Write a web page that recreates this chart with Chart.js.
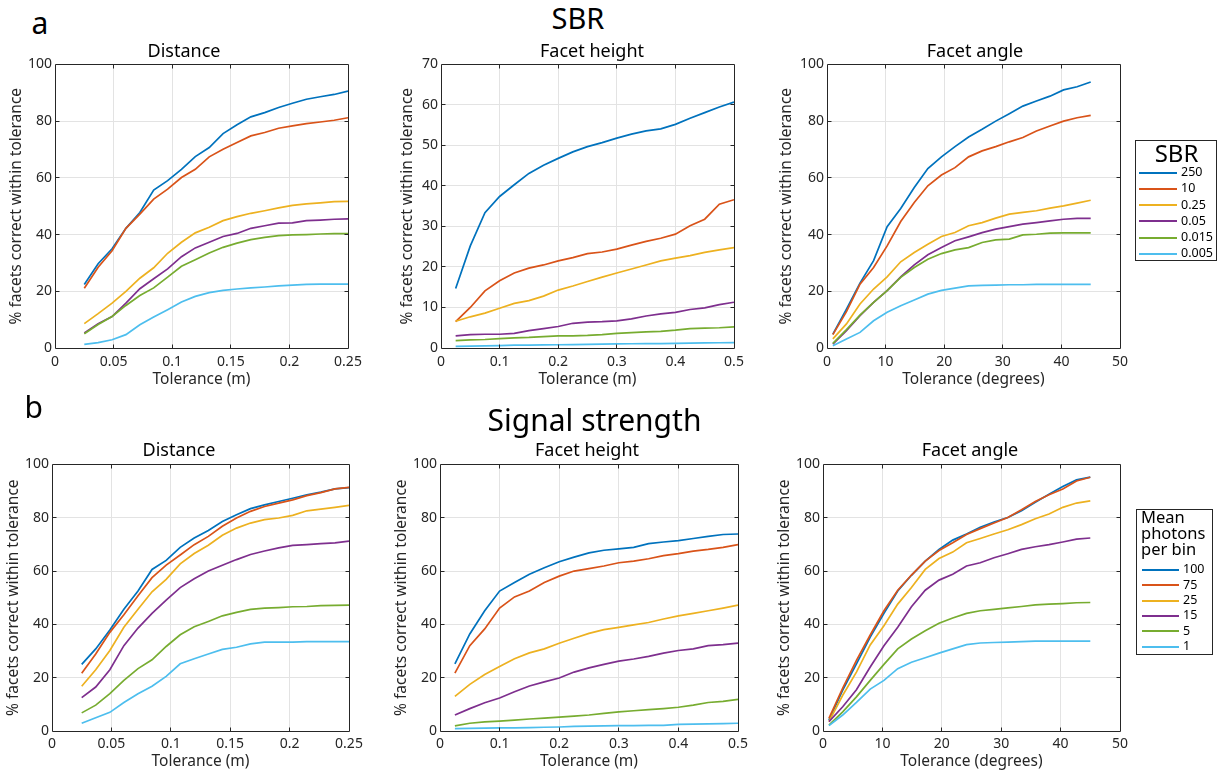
<!DOCTYPE html>
<html>
<head>
<meta charset="utf-8">
<script src="https://cdn.jsdelivr.net/npm/chart.js@4.4.1/dist/chart.umd.min.js"></script>
<style>
  html, body { margin: 0; padding: 0; background: #fff; }
  #fig { position: relative; width: 1225px; height: 775px; overflow: hidden; font-family: 'Noto Sans', sans-serif; }
  #fig canvas { position: absolute; }
  .txt { position: absolute; white-space: nowrap; color: #000; }
  .leg { position: absolute; border: 1px solid #262626; background: #fff; box-sizing: border-box; }
  .legline { position: absolute; height: 2px; }
</style>
</head>
<body>
<div id="fig"></div>
<script>
// ---------------- data ----------------
const sbrLevels = ['250', '10', '0.25', '0.05', '0.015', '0.005'];
const photonLevels = ['100', '75', '25', '15', '5', '1'];

// tolerance values (x) for each quantity
const tolDistance = [0.025, 0.0368, 0.0487, 0.0605, 0.0724, 0.0842, 0.0961, 0.1079, 0.1197, 0.1316,
                     0.1434, 0.1553, 0.1671, 0.1789, 0.1908, 0.2026, 0.2145, 0.2263, 0.2382, 0.25];
const tolHeight = [0.025, 0.05, 0.075, 0.1, 0.125, 0.15, 0.175, 0.2, 0.225, 0.25,
                   0.275, 0.3, 0.325, 0.35, 0.375, 0.4, 0.425, 0.45, 0.475, 0.5];
const tolAngle = [1, 3.32, 5.63, 7.95, 10.26, 12.58, 14.89, 17.21, 19.53, 21.84,
                  24.16, 26.47, 28.79, 31.11, 33.42, 35.74, 38.05, 40.37, 42.68, 45];

// tick labels
const ticksDistance = [0, 0.05, 0.1, 0.15, 0.2, 0.25];
const ticksHeight = [0, 0.1, 0.2, 0.3, 0.4, 0.5];
const ticksAngle = [0, 10, 20, 30, 40, 50];
const ticksPct100 = [0, 20, 40, 60, 80, 100];
const ticksPct70 = [0, 10, 20, 30, 40, 50, 60, 70];

// % facets correct, one row per SBR level (250, 10, 0.25, 0.05, 0.015, 0.005)
const sbrDistance = [
  [22.4, 29.7, 35.0, 42.2, 47.8, 55.7, 59.0, 63.0, 67.5, 70.7, 75.6, 78.7, 81.5, 83.0, 84.8, 86.3, 87.7, 88.6, 89.4, 90.6],
  [21.1, 28.5, 34.3, 42.2, 47.2, 52.5, 56.0, 60.1, 63.0, 67.4, 70.1, 72.5, 74.8, 76.0, 77.5, 78.3, 79.1, 79.7, 80.3, 81.2],
  [8.6, 12.1, 15.8, 20.0, 24.6, 28.3, 33.4, 37.3, 40.6, 42.6, 44.9, 46.3, 47.5, 48.4, 49.4, 50.3, 50.8, 51.2, 51.6, 51.7],
  [5.3, 8.6, 11.1, 15.8, 20.9, 24.4, 27.9, 32.2, 35.3, 37.3, 39.3, 40.4, 42.2, 43.1, 44.0, 44.1, 44.9, 45.1, 45.4, 45.5],
  [5.0, 8.3, 11.1, 15.0, 18.5, 21.2, 25.0, 28.8, 31.1, 33.5, 35.5, 37.0, 38.2, 39.0, 39.6, 39.9, 40.0, 40.2, 40.3, 40.3],
  [1.3, 1.9, 2.9, 4.7, 8.2, 10.9, 13.5, 16.2, 18.2, 19.5, 20.3, 20.8, 21.2, 21.5, 21.9, 22.2, 22.4, 22.5, 22.5, 22.5]
];
const sbrHeight = [
  [14.7, 25.2, 33.4, 37.4, 40.3, 43.1, 45.1, 46.8, 48.4, 49.7, 50.7, 51.8, 52.8, 53.6, 54.1, 55.2, 56.7, 58.1, 59.5, 60.7],
  [6.5, 10.0, 14.1, 16.6, 18.5, 19.7, 20.5, 21.5, 22.3, 23.3, 23.7, 24.4, 25.4, 26.3, 27.1, 28.1, 30.2, 31.8, 35.5, 36.6],
  [6.6, 7.7, 8.6, 9.8, 11.0, 11.7, 12.8, 14.3, 15.3, 16.4, 17.5, 18.5, 19.5, 20.5, 21.5, 22.2, 22.8, 23.6, 24.2, 24.8],
  [3.0, 3.3, 3.4, 3.4, 3.6, 4.3, 4.8, 5.3, 6.1, 6.4, 6.5, 6.7, 7.2, 7.9, 8.4, 8.8, 9.5, 9.9, 10.7, 11.3],
  [1.8, 2.0, 2.1, 2.3, 2.5, 2.6, 2.8, 3.0, 3.0, 3.1, 3.3, 3.6, 3.8, 4.0, 4.1, 4.4, 4.8, 4.9, 5.0, 5.2],
  [0.4, 0.45, 0.5, 0.6, 0.7, 0.7, 0.75, 0.8, 0.85, 0.9, 0.95, 1.0, 1.05, 1.1, 1.1, 1.15, 1.2, 1.25, 1.3, 1.35]
];
const sbrAngle = [
  [4.9, 13.7, 22.9, 30.8, 42.8, 49.2, 56.6, 63.3, 67.4, 71.0, 74.4, 77.1, 80.0, 82.6, 85.3, 87.1, 88.8, 91.0, 92.1, 93.8],
  [4.7, 12.8, 22.5, 28.4, 36.0, 44.6, 51.3, 57.2, 61.0, 63.6, 67.4, 69.5, 71.0, 72.7, 74.2, 76.5, 78.3, 80.0, 81.2, 82.0],
  [3.2, 8.5, 15.5, 20.8, 25.1, 30.4, 33.7, 36.6, 39.3, 40.7, 43.1, 44.2, 45.8, 47.2, 47.8, 48.4, 49.3, 50.1, 51.1, 52.1],
  [1.4, 6.1, 11.4, 16.1, 20.2, 25.1, 29.3, 32.9, 35.4, 37.8, 39.2, 40.7, 41.9, 42.8, 43.7, 44.2, 44.8, 45.4, 45.7, 45.7],
  [1.6, 6.5, 11.6, 16.1, 20.2, 24.9, 28.4, 31.3, 33.3, 34.6, 35.4, 37.2, 38.1, 38.4, 39.9, 40.1, 40.5, 40.6, 40.6, 40.6],
  [0.8, 3.2, 5.5, 9.6, 12.6, 14.9, 16.9, 19.0, 20.3, 21.1, 21.9, 22.1, 22.2, 22.3, 22.3, 22.4, 22.4, 22.4, 22.4, 22.4]
];

// % facets correct, one row per mean photon count (100, 75, 25, 15, 5, 1)
const photonDistance = [
  [25.0, 30.8, 37.9, 45.7, 52.5, 60.6, 64.0, 68.9, 72.4, 75.2, 78.6, 81.1, 83.4, 84.8, 86.1, 87.3, 88.6, 89.6, 90.8, 91.3],
  [21.7, 28.9, 37.0, 43.6, 50.7, 57.5, 62.2, 66.0, 69.9, 73.0, 76.8, 79.9, 82.4, 84.2, 85.5, 86.7, 88.3, 89.4, 90.8, 91.4],
  [16.8, 23.0, 30.2, 38.9, 45.7, 52.2, 56.9, 62.7, 66.6, 69.7, 73.4, 76.1, 78.0, 79.3, 79.9, 80.9, 82.6, 83.2, 83.9, 84.6],
  [12.5, 16.5, 23.0, 32.0, 38.6, 44.1, 49.1, 53.8, 57.1, 60.0, 62.2, 64.3, 66.2, 67.5, 68.7, 69.6, 69.9, 70.3, 70.6, 71.2],
  [6.8, 9.7, 14.0, 19.0, 23.4, 26.7, 31.7, 36.1, 39.1, 41.1, 43.2, 44.5, 45.6, 46.1, 46.3, 46.6, 46.7, 47.0, 47.1, 47.2],
  [2.9, 5.0, 7.0, 10.7, 14.0, 16.8, 20.5, 25.2, 27.1, 28.9, 30.6, 31.4, 32.7, 33.3, 33.3, 33.3, 33.5, 33.5, 33.5, 33.5]
];
const photonHeight = [
  [25.2, 36.4, 45.1, 52.5, 55.7, 58.8, 61.2, 63.5, 65.2, 66.8, 67.8, 68.3, 68.9, 70.3, 70.9, 71.4, 72.2, 73.0, 73.7, 73.9],
  [21.7, 32.0, 38.3, 46.1, 50.3, 52.5, 55.7, 58.1, 60.0, 60.9, 61.9, 63.1, 63.7, 64.6, 65.8, 66.5, 67.5, 68.1, 68.9, 69.9],
  [13.0, 17.5, 21.2, 24.2, 27.1, 29.3, 30.8, 32.9, 34.8, 36.6, 38.0, 38.9, 39.8, 40.7, 42.0, 43.2, 44.1, 45.1, 46.1, 47.2],
  [6.0, 8.4, 10.6, 12.4, 14.7, 16.9, 18.4, 19.9, 22.1, 23.7, 25.0, 26.2, 27.0, 28.0, 29.2, 30.2, 30.8, 32.0, 32.4, 33.0],
  [1.9, 2.9, 3.4, 3.7, 4.1, 4.5, 4.8, 5.2, 5.6, 6.0, 6.6, 7.2, 7.6, 8.0, 8.4, 8.9, 9.7, 10.7, 11.1, 11.9],
  [0.9, 1.0, 1.1, 1.2, 1.2, 1.3, 1.4, 1.5, 1.7, 1.8, 1.9, 2.0, 2.0, 2.1, 2.1, 2.5, 2.6, 2.7, 2.8, 2.9]
];
const photonAngle = [
  [4.1, 15.3, 25.2, 35.2, 44.1, 52.5, 58.4, 63.7, 68.1, 71.6, 73.9, 76.4, 78.4, 80.1, 82.6, 85.8, 88.8, 91.7, 94.2, 95.2],
  [4.7, 16.1, 26.5, 36.0, 45.1, 52.8, 58.5, 63.7, 67.7, 70.6, 73.7, 75.9, 78.0, 80.1, 83.0, 86.1, 88.6, 90.8, 93.8, 95.2],
  [3.5, 13.4, 22.1, 32.3, 39.5, 47.6, 53.8, 60.6, 64.7, 67.1, 70.6, 72.2, 73.9, 75.5, 77.4, 79.6, 81.4, 83.9, 85.5, 86.3],
  [3.5, 9.1, 15.5, 24.0, 32.0, 38.9, 46.6, 52.8, 56.6, 58.8, 61.9, 63.1, 65.0, 66.5, 68.1, 69.1, 69.9, 70.9, 72.0, 72.4],
  [2.2, 7.2, 12.8, 19.0, 25.0, 30.8, 34.5, 37.6, 40.4, 42.4, 44.1, 45.1, 45.6, 46.2, 46.7, 47.3, 47.6, 47.8, 48.1, 48.2],
  [2.0, 6.0, 10.7, 15.7, 19.0, 23.4, 25.8, 27.5, 29.2, 30.8, 32.4, 33.0, 33.2, 33.3, 33.5, 33.7, 33.7, 33.7, 33.7, 33.7]
];

// ---------------- styles ----------------
const FONT = "'Noto Sans', sans-serif";
const LINE_COLORS = ['#0072BD', '#D95319', '#EDB120', '#7E2F8E', '#77AC30', '#4DBEEE'];
const AXIS_COLOR = '#262626';
const GRID_COLOR = '#e3e3e3';
const Y_TITLE = '% facets correct within tolerance';

const fig = document.getElementById('fig');

// box around the plot area with inward tick marks on all four sides (MATLAB style)
const axesBox = {
  id: 'axesBox',
  afterDraw(chart) {
    const { ctx, chartArea: a, scales: { x, y } } = chart;
    const al = v => Math.round(v - 0.5) + 0.5;
    const L = al(a.left), R = al(a.right), T = al(a.top), B = al(a.bottom);
    const TL = 4;
    ctx.save();
    ctx.strokeStyle = AXIS_COLOR;
    ctx.lineWidth = 1;
    ctx.beginPath();
    ctx.rect(L, T, R - L, B - T);
    x.ticks.forEach(t => {
      const px = al(x.getPixelForValue(t.value));
      if (px <= L + 1 || px >= R - 1) return;
      ctx.moveTo(px, B); ctx.lineTo(px, B - TL);
      ctx.moveTo(px, T); ctx.lineTo(px, T + TL);
    });
    y.ticks.forEach(t => {
      const py = al(y.getPixelForValue(t.value));
      if (py <= T + 1 || py >= B - 1) return;
      ctx.moveTo(L, py); ctx.lineTo(L + TL, py);
      ctx.moveTo(R, py); ctx.lineTo(R - TL, py);
    });
    ctx.stroke();
    ctx.restore();
  }
};

function makePanel(p) {
  const YW = 52, PT = 10, PR = 22, XH = 46;
  const w = YW + (p.rect.r - p.rect.l) + PR;
  const h = PT + (p.rect.b - p.rect.t) + XH;
  const c = document.createElement('canvas');
  c.width = w; c.height = h;
  c.style.left = (p.rect.l - YW) + 'px';
  c.style.top = (p.rect.t - PT) + 'px';
  c.style.width = w + 'px';
  c.style.height = h + 'px';
  fig.appendChild(c);

  const n = p.series.length;
  new Chart(c, {
    type: 'line',
    data: {
      datasets: p.series.map((ys, i) => ({
        label: p.levels[i],
        data: ys.map((v, j) => ({ x: p.x[j], y: v })),
        borderColor: LINE_COLORS[i],
        backgroundColor: LINE_COLORS[i],
        borderWidth: 1.7,
        pointRadius: 0,
        tension: 0,
        fill: false,
        order: n - i
      }))
    },
    options: {
      responsive: false,
      animation: false,
      devicePixelRatio: 1,
      layout: { padding: { left: 0, top: PT, right: PR, bottom: 0 } },
      plugins: { legend: { display: false }, tooltip: { enabled: false }, title: { display: false } },
      scales: {
        x: {
          type: 'linear', min: 0, max: p.xTicks[p.xTicks.length - 1],
          afterBuildTicks: s => { s.ticks = p.xTicks.map(v => ({ value: v })); },
          afterFit: s => { s.height = XH; },
          ticks: { padding: p.xTickPad, font: { family: FONT, size: 14 }, color: AXIS_COLOR,
                   maxRotation: 0, minRotation: 0, autoSkip: false, callback: v => String(v) },
          grid: { color: GRID_COLOR, lineWidth: 1, drawTicks: false },
          border: { display: false },
          title: { display: true, text: p.xTitle, color: AXIS_COLOR,
                   font: { family: FONT, size: 15.5 }, padding: { top: 0, bottom: p.xTitlePad } }
        },
        y: {
          type: 'linear', min: 0, max: p.yTicks[p.yTicks.length - 1],
          afterBuildTicks: s => { s.ticks = p.yTicks.map(v => ({ value: v })); },
          afterFit: s => { s.width = YW; },
          ticks: { padding: 3, font: { family: FONT, size: 14 }, color: AXIS_COLOR,
                   autoSkip: false, callback: v => String(v) },
          grid: { color: GRID_COLOR, lineWidth: 1, drawTicks: false },
          border: { display: false },
          title: { display: true, text: Y_TITLE, color: AXIS_COLOR,
                   font: { family: FONT, size: 15.5 }, padding: { top: p.yTitlePad, bottom: 0 } }
        }
      }
    },
    plugins: [axesBox]
  });
}

function addText(str, x, baseline, size, align) {
  const d = document.createElement('div');
  d.className = 'txt';
  d.textContent = str;
  d.style.fontSize = size + 'px';
  d.style.lineHeight = size + 'px';
  d.style.top = (baseline - 0.888 * size) + 'px';
  d.style.left = x + 'px';
  if (align === 'center') d.style.transform = 'translateX(-50%)';
  fig.appendChild(d);
  return d;
}

function addLegend(box, titleLines, titleOpts, levels, rows) {
  const b = document.createElement('div');
  b.className = 'leg';
  b.style.left = box.l + 'px'; b.style.top = box.t + 'px';
  b.style.width = box.w + 'px'; b.style.height = box.h + 'px';
  fig.appendChild(b);
  titleLines.forEach((s, i) =>
    addText(s, titleOpts.x, titleOpts.baseline + i * titleOpts.step, titleOpts.size, titleOpts.align));
  levels.forEach((lv, i) => {
    const y = rows.y0 + rows.step * i;
    const ln = document.createElement('div');
    ln.className = 'legline';
    ln.style.left = rows.lineX + 'px';
    ln.style.width = rows.lineW + 'px';
    ln.style.top = (y - 1) + 'px';
    ln.style.background = LINE_COLORS[i];
    fig.appendChild(ln);
    addText(lv, rows.textX, y + 4.4, 12.5, 'left');
  });
}

// ---------------- panels ----------------
const rowA = { t: 63, b: 348 };
const rowB = { t: 463, b: 731 };
const panels = [
  { rect: { l: 55, r: 348, ...rowA }, x: tolDistance, series: sbrDistance, levels: sbrLevels,
    xTicks: ticksDistance, yTicks: ticksPct100, xTitle: 'Tolerance (m)', xTickPad: 6, xTitlePad: 4.7, yTitlePad: 4.4 },
  { rect: { l: 441, r: 734, ...rowA }, x: tolHeight, series: sbrHeight, levels: sbrLevels,
    xTicks: ticksHeight, yTicks: ticksPct70, xTitle: 'Tolerance (m)', xTickPad: 6, xTitlePad: 4.7, yTitlePad: 9.7 },
  { rect: { l: 827, r: 1120, ...rowA }, x: tolAngle, series: sbrAngle, levels: sbrLevels,
    xTicks: ticksAngle, yTicks: ticksPct100, xTitle: 'Tolerance (degrees)', xTickPad: 6, xTitlePad: 4.7, yTitlePad: 2.7 },
  { rect: { l: 52, r: 349, ...rowB }, x: tolDistance, series: photonDistance, levels: photonLevels,
    xTicks: ticksDistance, yTicks: ticksPct100, xTitle: 'Tolerance (m)', xTickPad: 5, xTitlePad: 6, yTitlePad: 4 },
  { rect: { l: 440, r: 738, ...rowB }, x: tolHeight, series: photonHeight, levels: photonLevels,
    xTicks: ticksHeight, yTicks: ticksPct100, xTitle: 'Tolerance (m)', xTickPad: 5, xTitlePad: 6, yTitlePad: 4.4 },
  { rect: { l: 823, r: 1120, ...rowB }, x: tolAngle, series: photonAngle, levels: photonLevels,
    xTicks: ticksAngle, yTicks: ticksPct100, xTitle: 'Tolerance (degrees)', xTickPad: 5, xTitlePad: 6, yTitlePad: 4.4 }
];
panels.forEach(makePanel);

// panel titles
addText('Distance', 184, 56.7, 18, 'center');
addText('Facet height', 592, 56.7, 18, 'center');
addText('Facet angle', 975, 56.7, 18, 'center');
addText('Distance', 179, 455.7, 18, 'center');
addText('Facet height', 587, 455.7, 18, 'center');
addText('Facet angle', 970, 455.7, 18, 'center');

// figure labels and group headings
addText('a', 31.5, 35, 30, 'left');
addText('b', 24.5, 419, 30, 'left');
addText('SBR', 578, 28.3, 29, 'center');
addText('Signal strength', 594.5, 432, 30, 'center');

// legends
addLegend({ l: 1135, t: 140, w: 82, h: 121 }, ['SBR'],
  { x: 1176.5, baseline: 162.7, step: 0, size: 24, align: 'center' },
  sbrLevels, { y0: 172.7, step: 16.25, lineX: 1139, lineW: 38, textX: 1181 });
addLegend({ l: 1136, t: 509, w: 77, h: 146 }, ['Mean', 'photons', 'per bin'],
  { x: 1141, baseline: 524, step: 16, size: 16.5, align: 'left' },
  photonLevels, { y0: 570, step: 15.35, lineX: 1142, lineW: 37, textX: 1183 });
</script>
</body>
</html>
